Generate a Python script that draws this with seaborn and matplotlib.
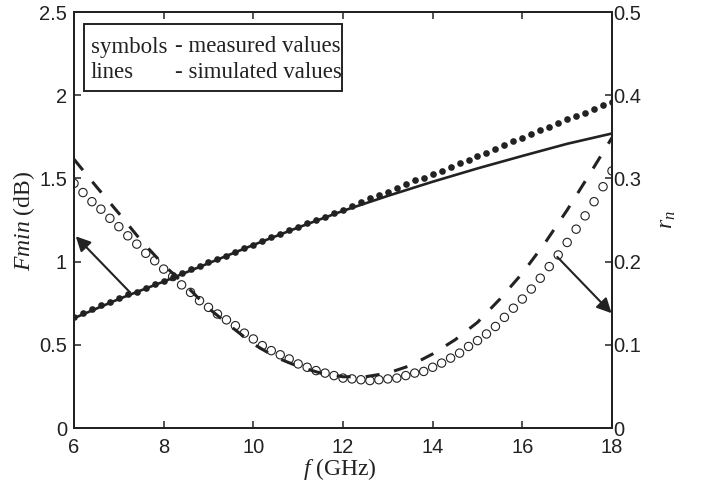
import numpy as np
import pandas as pd
import matplotlib
matplotlib.use("Agg")
import matplotlib.pyplot as plt
from matplotlib.patches import Rectangle
from matplotlib.ticker import FormatStrFormatter
import seaborn as sns

# ---------------- data ----------------
# measured points, 6 .. 18 GHz in 0.2 GHz steps
f_meas = [round(6.0 + 0.2 * i, 1) for i in range(61)]
fmin_meas = [0.67, 0.69, 0.715, 0.74, 0.76, 0.78, 0.805, 0.82, 0.84, 0.865,
             0.885, 0.91, 0.93, 0.955, 0.975, 0.995, 1.015, 1.035, 1.056, 1.08,
             1.10, 1.124, 1.145, 1.167, 1.188, 1.209, 1.229, 1.249, 1.269, 1.29,
             1.312, 1.335, 1.356, 1.38, 1.40, 1.42, 1.44, 1.464, 1.488, 1.502,
             1.524, 1.546, 1.566, 1.59, 1.612, 1.633, 1.655, 1.678, 1.699, 1.722,
             1.743, 1.766, 1.79, 1.807, 1.834, 1.855, 1.875, 1.896, 1.916, 1.94,
             1.96]
rn_meas = [0.294, 0.283, 0.272, 0.263, 0.252, 0.242, 0.231, 0.221, 0.210, 0.201,
           0.191, 0.182, 0.172, 0.163, 0.153, 0.145, 0.137, 0.130, 0.123, 0.114,
           0.107, 0.099, 0.093, 0.088, 0.083, 0.077, 0.073, 0.069, 0.066, 0.063,
           0.060, 0.059, 0.058, 0.057, 0.058, 0.059, 0.060, 0.063, 0.066, 0.068,
           0.073, 0.078, 0.084, 0.090, 0.098, 0.105, 0.113, 0.122, 0.133, 0.144,
           0.155, 0.167, 0.180, 0.194, 0.208, 0.223, 0.239, 0.255, 0.272, 0.290,
           0.309]

# simulated curves
f_sim_fmin = [6, 7, 8, 9, 10, 11, 12, 13, 14, 15, 16, 17, 18]
fmin_sim = [0.66, 0.775, 0.88, 0.99, 1.10, 1.205, 1.305, 1.395, 1.48, 1.56,
            1.635, 1.708, 1.77]
f_sim_rn = [6.0, 6.5, 7.0, 7.5, 8.0, 8.5, 9.0, 9.5, 10.0, 10.5, 11.0, 11.5,
            12.0, 12.5, 13.0, 13.5, 14.0, 14.5, 15.0, 15.5, 16.0, 16.5, 17.0,
            17.5, 18.0]
rn_sim = [0.323, 0.290, 0.258, 0.225, 0.196, 0.171, 0.144, 0.122, 0.101, 0.085,
          0.074, 0.066, 0.0616, 0.0616, 0.066, 0.075, 0.089, 0.106, 0.127, 0.155,
          0.186, 0.222, 0.262, 0.305, 0.349]

x_ticks = [6, 8, 10, 12, 14, 16, 18]
left_ticks = [0, 0.5, 1, 1.5, 2, 2.5]
right_ticks = [0, 0.1, 0.2, 0.3, 0.4, 0.5]
legend_left = ["symbols", "lines"]
legend_right = ["- measured values", "- simulated values"]

# ---------------- style ----------------
sns.set_style("ticks")
DARK = "#222222"
plt.rcParams["font.family"] = ["Liberation Sans", "DejaVu Sans"]
plt.rcParams["mathtext.fontset"] = "custom"
plt.rcParams["mathtext.rm"] = "Liberation Serif"
plt.rcParams["mathtext.it"] = "Liberation Serif:italic"
plt.rcParams["axes.edgecolor"] = DARK
plt.rcParams["axes.linewidth"] = 1.4
serif = ["Liberation Serif", "DejaVu Serif"]

fig = plt.figure(figsize=(7.04, 4.84), dpi=100)
ax = fig.add_axes([74 / 704, 1 - 428 / 484, (612 - 74) / 704, (428 - 12) / 484])
ax2 = ax.twinx()

df_fm = pd.DataFrame({"f": f_meas, "Fmin": fmin_meas, "rn": rn_meas})
df_fs = pd.DataFrame({"f": f_sim_fmin, "Fmin": fmin_sim})
df_rs = pd.DataFrame({"f": f_sim_rn, "rn": rn_sim})

# Fmin (left axis)
sns.lineplot(data=df_fs, x="f", y="Fmin", ax=ax, color=DARK, lw=1.9,
             legend=False, zorder=3)
sns.scatterplot(data=df_fm, x="f", y="Fmin", ax=ax, color=DARK, s=23,
                linewidth=0, legend=False, zorder=4)

# r_n (right axis)
sns.lineplot(data=df_rs, x="f", y="rn", ax=ax2, color=DARK, lw=2.2,
             legend=False, zorder=3)
ax2.lines[0].set_dashes((4.6, 4.9))
ax2.lines[0].set_dash_capstyle("butt")
sns.scatterplot(data=df_fm, x="f", y="rn", ax=ax2, marker="o", s=36,
                facecolors="none", edgecolor=DARK, linewidth=0.8,
                legend=False, zorder=4)

# axes limits / ticks
ax.set_xlim(6, 18)
ax.set_ylim(0, 2.5)
ax2.set_ylim(0, 0.5)
ax.set_xticks(x_ticks)
ax.set_yticks(left_ticks)
ax2.set_yticks(right_ticks)
ax.yaxis.set_major_formatter(FormatStrFormatter("%g"))
ax2.yaxis.set_major_formatter(FormatStrFormatter("%g"))

ax.tick_params(axis="x", direction="in", top=True, bottom=True, length=5,
               width=1.1, color=DARK, labelsize=14.5, labelcolor=DARK, pad=7)
ax.tick_params(axis="y", direction="in", left=True, right=False, length=5,
               width=1.1, color=DARK, labelsize=14.5, labelcolor=DARK, pad=5)
ax2.tick_params(axis="y", direction="in", right=True, length=5, width=1.1,
                color=DARK, labelsize=14.5, labelcolor=DARK, pad=1)
for a in (ax, ax2):
    for s in a.spines.values():
        s.set_visible(True)
        s.set_color(DARK)
        s.set_linewidth(1.4)

# labels
ax.set_xlabel(r"$f$ (GHz)", fontsize=17, color=DARK, family=serif)
ax.xaxis.set_label_coords(0.494, -0.099)
ax.xaxis.label.set_va("center")
ax.set_ylabel(r"$Fmin$ (dB)", fontsize=17, color=DARK, va="center",
              ha="center", family=serif)
ax.yaxis.set_label_coords(-0.093, 0.498)
ax2.set_ylabel(r"$r_n$", fontsize=17, color=DARK, rotation=90, va="center",
               ha="center", family=serif)
ax2.yaxis.set_label_coords(1.104, 0.5)

# legend-like box
ax.add_patch(Rectangle((10 / 538, (428 - 91) / 416), (342 - 84) / 538,
                       (91 - 24) / 416, transform=ax.transAxes, fill=False,
                       edgecolor=DARK, lw=1.4, zorder=6))
for i, (l, r) in enumerate(zip(legend_left, legend_right)):
    ypix = 47 + 26 * i
    yax = (428 - ypix) / 416
    ax.text((91 - 74) / 538, yax, l, transform=ax.transAxes, fontsize=16.5,
            family=serif, color=DARK, va="center", ha="left", zorder=7)
    ax.text((175 - 74) / 538, yax, r, transform=ax.transAxes, fontsize=16.5,
            family=serif, color=DARK, va="center", ha="left", zorder=7)

# arrows (left-axis data coordinates)
arrow_kw = dict(arrowstyle="-|>", mutation_scale=22, lw=1.5, color=DARK,
                shrinkA=0, shrinkB=0)
ax.annotate("", xy=(6.04, 1.152), xytext=(7.25, 0.815), arrowprops=arrow_kw,
            zorder=8)
ax.annotate("", xy=(17.99, 0.690), xytext=(16.78, 1.028), arrowprops=arrow_kw,
            zorder=8)

fig.savefig("out.png", dpi=100)
